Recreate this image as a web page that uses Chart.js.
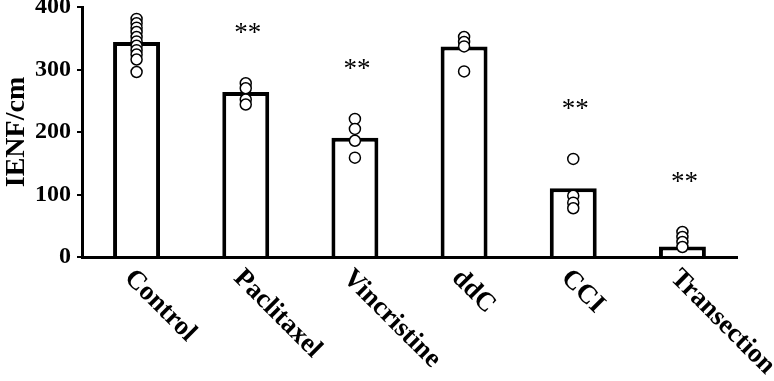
<!DOCTYPE html>
<html>
<head>
<meta charset="utf-8">
<script src="https://cdn.jsdelivr.net/npm/chart.js@4/dist/chart.umd.min.js"></script>
<style>
  html, body { margin: 0; padding: 0; background: #fff; }
  #wrap { width: 774px; height: 381px; }
</style>
</head>
<body>
<div id="wrap"><canvas id="ienfChart"></canvas></div>
<script>
// IENF density per group
const categories = ["Control", "Paclitaxel", "Vincristine", "ddC", "CCI", "Transection"];
const meanValues = [344, 264, 191, 337, 110, 17];
const controlPoints = [381, 374, 367, 360, 352, 345, 338, 331, 324, 316, 296];
const paclitaxelPoints = [278, 270, 252, 244];
const vincristinePoints = [221, 205, 186, 159];
const ddcPoints = [352, 344, 337, 297];
const cciPoints = [157, 98, 87, 78];
const transectionPoints = [40, 32, 24, 16];
const groupPoints = [controlPoints, paclitaxelPoints, vincristinePoints, ddcPoints, cciPoints, transectionPoints];
const significant = [false, true, true, false, true, true];
const yTicks = [0, 100, 200, 300, 400];

const serif = '"Liberation Serif", "Times New Roman", serif';

// flatten the individual animals into {x, y} points on the category axis
const scatterData = [];
groupPoints.forEach((pts, i) => {
  pts.forEach(v => scatterData.push({ x: categories[i], y: v }));
});

const labelsPlugin = {
  id: "labelsPlugin",
  afterDatasetsDraw(chart) {
    const ctx = chart.ctx;
    const x = chart.scales.x;
    const y = chart.scales.y;
    ctx.save();
    ctx.fillStyle = "#000";

    // rotated group names
    ctx.font = "bold 27px " + serif;
    ctx.textAlign = "left";
    ctx.textBaseline = "alphabetic";
    categories.forEach((c, i) => {
      const px = x.getPixelForValue(i);
      ctx.save();
      ctx.translate(px - 13, y.bottom + 22);
      ctx.rotate(Math.PI / 4);
      ctx.fillText(c, 0, 0);
      ctx.restore();
    });

    // ** above significant groups
    ctx.font = "27px " + serif;
    ctx.textAlign = "center";
    categories.forEach((c, i) => {
      if (!significant[i]) return;
      const top = Math.max(...groupPoints[i]);
      const px = x.getPixelForValue(i);
      const py = y.getPixelForValue(top + 80);
      ctx.fillText("**", px + 2, py + 8);
    });
    ctx.restore();
  }
};

new Chart(document.getElementById("ienfChart").getContext("2d"), {
  data: {
    labels: categories,
    datasets: [
      {
        type: "line",
        data: scatterData,
        showLine: false,
        pointStyle: "circle",
        pointRadius: 5.5,
        pointBackgroundColor: "#fff",
        pointBorderColor: "#000",
        pointBorderWidth: 1.5,
        order: 1
      },
      {
        type: "bar",
        data: meanValues,
        backgroundColor: "#fff",
        borderColor: "#000",
        borderWidth: 4,
        borderSkipped: "start",
        categoryPercentage: 1,
        barPercentage: 0.43,
        order: 2
      }
    ]
  },
  options: {
    responsive: true,
    maintainAspectRatio: false,
    animation: false,
    layout: { padding: { top: 6, right: 37, left: 0, bottom: 0 } },
    plugins: {
      legend: { display: false },
      tooltip: { enabled: false }
    },
    scales: {
      x: {
        type: "category",
        offset: true,
        grid: { display: false },
        border: { display: true, color: "#000", width: 3 },
        ticks: { display: false },
        afterFit(scale) { scale.height = 124; }
      },
      y: {
        min: 0,
        max: 400,
        afterBuildTicks(scale) { scale.ticks = yTicks.map(v => ({ value: v })); },
        grid: { display: true, drawOnChartArea: false, tickLength: 5, color: "#000", lineWidth: 2 },
        border: { display: true, color: "#000", width: 3 },
        ticks: {
          color: "#000",
          padding: 6,
          font: { family: serif, size: 24, weight: "bold" }
        },
        title: {
          display: true,
          text: "IENF/cm",
          color: "#000",
          padding: { top: 0, bottom: 0 },
          font: { family: serif, size: 28, weight: "bold" }
        },
        afterFit(scale) {
          scale.width = 82;
          scale.paddingTop = 0;
          scale.paddingBottom = 0;
        }
      }
    }
  },
  plugins: [labelsPlugin]
});
</script>
</body>
</html>
